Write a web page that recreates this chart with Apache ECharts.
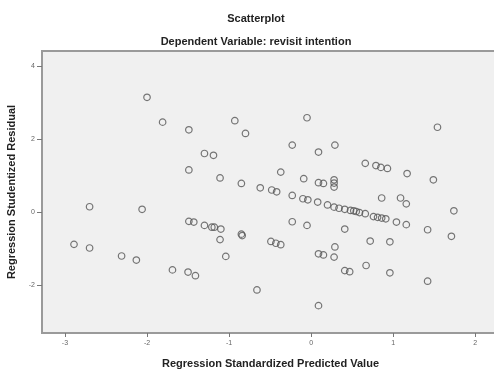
<!DOCTYPE html>
<html>
<head>
<meta charset="utf-8">
<script src="https://cdn.jsdelivr.net/npm/echarts@6/dist/echarts.min.js"></script>
<style>html,body{margin:0;padding:0;background:#fff}#c{width:494px;height:369px}</style>
</head>
<body>
<div id="c"></div>
<script>
const predicted = [-2.00,-1.81,-1.49,-1.49,-2.70,-2.06,-1.49,-1.43,-2.89,-2.70,-2.31,-2.13,-1.69,-1.50,-1.41,-1.04,-0.66,0.09,0.15,0.28,0.41,0.47,0.67,0.96,1.42,0.09,-0.93,-0.80,-0.05,-0.23,-1.30,-1.19,-0.37,-0.09,-1.11,-0.85,-0.62,-0.48,-0.42,-0.23,-0.10,-0.04,-1.30,-1.21,-1.18,-1.10,-1.11,-0.85,-0.84,-0.23,-0.05,-0.49,-0.43,-0.37,0.09,0.29,0.66,0.79,0.85,0.93,0.09,0.15,0.28,0.28,0.28,0.08,0.20,0.28,0.34,0.41,0.48,0.55,0.59,0.66,0.76,0.81,0.86,0.91,1.04,0.86,1.09,0.41,0.72,0.96,0.29,1.54,1.17,1.49,1.16,1.74,1.16,1.42,1.71,0.52];
const residual = [3.14,2.46,2.25,1.15,0.14,0.07,-0.26,-0.28,-0.89,-0.99,-1.21,-1.32,-1.59,-1.65,-1.75,-1.22,-2.14,-1.15,-1.18,-1.24,-1.61,-1.64,-1.47,-1.67,-1.90,-2.57,2.50,2.15,2.58,1.83,1.60,1.55,1.09,0.91,0.93,0.78,0.66,0.60,0.55,0.45,0.36,0.33,-0.37,-0.42,-0.42,-0.47,-0.76,-0.61,-0.65,-0.27,-0.37,-0.81,-0.86,-0.90,1.64,1.83,1.33,1.27,1.22,1.19,0.80,0.78,0.88,0.79,0.68,0.27,0.19,0.13,0.10,0.07,0.04,0.01,-0.02,-0.05,-0.13,-0.15,-0.17,-0.19,-0.28,0.38,0.38,-0.47,-0.80,-0.82,-0.96,2.32,1.05,0.88,0.22,0.03,-0.35,-0.49,-0.67,0.03];
const xTicks = [-3,-2,-1,0,1,2];
const yTicks = [-2,0,2,4];

const pts = predicted.map((x,i)=>[x,residual[i]]);
const chart = echarts.init(document.getElementById('c'));
const tickFont = {fontFamily:'Liberation Sans',fontSize:7,color:'#666'};
chart.setOption({
  animation:false,
  title:[
    {text:'Scatterplot',left:251,top:8,textAlign:'center',textStyle:{fontFamily:'Liberation Sans',fontSize:11,fontWeight:'bold',color:'#222'}},
    {text:'Dependent Variable: revisit intention',left:251,top:31,textAlign:'center',textStyle:{fontFamily:'Liberation Sans',fontSize:11,fontWeight:'bold',color:'#222'}}
  ],
  grid:{left:42,top:51,right:-5,bottom:36,containLabel:false,outerBoundsMode:'none',show:true,backgroundColor:'#f0f0f0',borderColor:'#9a9a9a',borderWidth:2},
  xAxis:{type:'value',min:-3.28,max:2.29,
    name:'Regression Standardized Predicted Value',nameLocation:'middle',nameGap:25,
    nameTextStyle:{fontFamily:'Liberation Sans',fontSize:11,fontWeight:'bold',color:'#222',padding:[0,0,0,0]},
    axisLine:{show:true,onZero:false,lineStyle:{color:'#9a9a9a',width:2}},
    axisTick:{show:true,length:4,customValues:xTicks,lineStyle:{color:'#777'}},
    axisLabel:{customValues:xTicks,margin:7,...tickFont},
    splitLine:{show:false}},
  yAxis:{type:'value',min:-3.32,max:4.41,
    name:'Regression Studentized Residual',nameLocation:'middle',nameGap:20,
    nameTextStyle:{fontFamily:'Liberation Sans',fontSize:11,fontWeight:'bold',color:'#222'},
    axisLine:{show:true,onZero:false,lineStyle:{color:'#9a9a9a',width:2}},
    axisTick:{show:true,length:5,customValues:yTicks,lineStyle:{color:'#777'}},
    axisLabel:{customValues:yTicks,margin:7,...tickFont},
    splitLine:{show:false}},
  series:[{type:'scatter',data:pts,symbol:'circle',symbolSize:6.5,
    itemStyle:{color:'rgba(0,0,0,0)',borderColor:'#555',borderWidth:1.2}}]
});
</script>
</body>
</html>
